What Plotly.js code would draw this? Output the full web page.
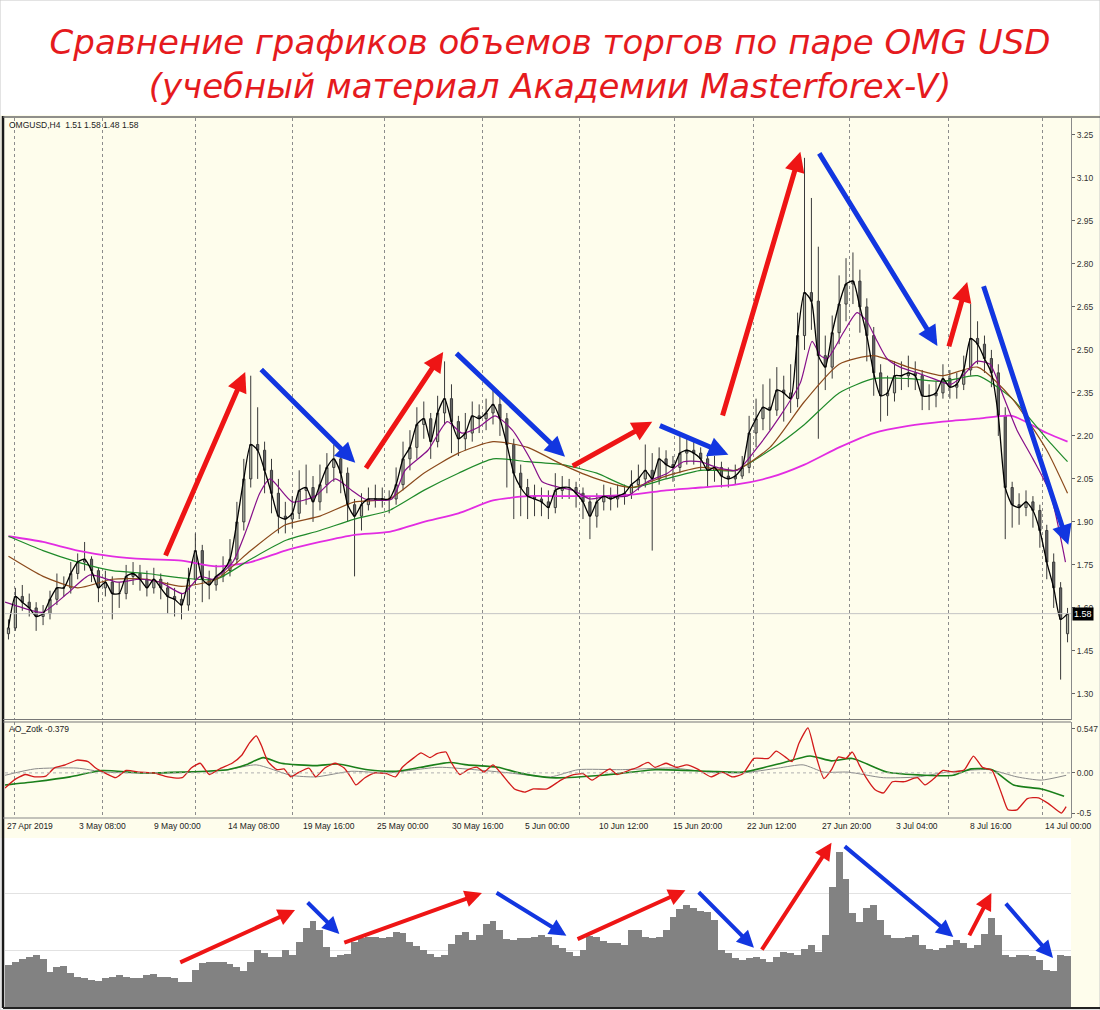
<!DOCTYPE html>
<html>
<head>
<meta charset="utf-8">
<script src="https://cdn.plot.ly/plotly-3.0.1.min.js"></script>
<style>html,body{margin:0;padding:0;background:#fff;}#chart{width:1100px;height:1010px;}</style>
</head>
<body>
<div id="chart"></div>
<script>
// ---------- DATA (x = 12-hour candle index) ----------
const titleLines = ['Сравнение графиков объемов торгов по паре OMG USD', '(учебный материал Академии Masterforex-V)'];
const symbolInfo = 'OMGUSD,H4  1.51 1.58 1.48 1.58';
const oscInfo = 'AO_Zotk -0.379';

const openP = [1.51,1.53,1.64,1.62,1.60,1.57,1.58,1.63,1.67,1.67,
 1.72,1.76,1.77,1.73,1.67,1.69,1.65,1.65,1.71,1.72,
 1.70,1.67,1.70,1.67,1.64,1.63,1.61,1.70,1.80,1.70,
 1.68,1.71,1.73,1.77,1.90,2.05,2.17,2.15,2.08,2.00,
 1.92,1.91,1.93,2.01,2.02,1.97,2.03,2.09,2.12,2.07,
 1.96,1.92,1.96,1.98,1.98,1.98,1.98,2.03,2.12,2.16,
 2.24,2.26,2.18,2.28,2.33,2.25,2.19,2.21,2.27,2.26,
 2.28,2.31,2.26,2.17,2.07,2.02,1.99,1.98,1.97,1.95,
 2.01,2.02,2.02,2.00,1.97,1.92,1.97,1.99,1.98,1.99,
 2.00,2.03,2.05,2.08,2.05,2.12,2.10,2.09,2.14,2.15,
 2.14,2.12,2.08,2.09,2.06,2.05,2.06,2.09,2.21,2.26,
 2.30,2.29,2.36,2.35,2.33,2.55,2.70,2.67,2.48,2.44,
 2.56,2.66,2.73,2.74,2.65,2.55,2.42,2.34,2.35,2.41,
 2.41,2.42,2.41,2.34,2.34,2.35,2.40,2.37,2.38,2.43,
 2.54,2.52,2.47,2.42,2.27,2.02,1.96,1.95,1.97,1.94,
 1.87,1.76,1.67,1.51];
const highP = [1.56,1.67,1.68,1.65,1.62,1.61,1.66,1.72,1.71,1.76,
 1.79,1.83,1.78,1.74,1.73,1.71,1.69,1.75,1.76,1.75,
 1.73,1.74,1.72,1.69,1.67,1.65,1.74,1.86,1.82,1.73,
 1.75,1.78,1.84,1.97,2.12,2.41,2.30,2.18,2.12,2.05,
 1.97,1.99,2.08,2.10,2.06,2.10,2.14,2.17,2.15,2.09,
 1.98,2.00,2.02,2.03,2.02,2.01,2.09,2.18,2.22,2.30,
 2.32,2.28,2.34,2.46,2.38,2.27,2.28,2.32,2.31,2.33,
 2.36,2.34,2.28,2.19,2.10,2.05,2.03,2.02,2.01,2.07,
 2.06,2.05,2.04,2.02,1.99,2.00,2.03,2.02,2.03,2.03,
 2.08,2.10,2.17,2.14,2.16,2.15,2.13,2.20,2.19,2.18,
 2.16,2.14,2.13,2.11,2.09,2.10,2.13,2.27,2.33,2.38,
 2.40,2.44,2.41,2.45,2.63,3.17,3.03,2.86,2.55,2.62,
 2.76,2.82,2.84,2.78,2.68,2.58,2.45,2.41,2.46,2.46,
 2.48,2.46,2.43,2.38,2.39,2.45,2.43,2.42,2.48,2.66,
 2.60,2.55,2.50,2.45,2.30,2.04,2.00,2.01,1.99,1.96,
 1.89,1.79,1.69,1.60];
const lowP = [1.49,1.52,1.59,1.57,1.52,1.54,1.56,1.61,1.64,1.65,
 1.70,1.73,1.69,1.62,1.64,1.56,1.60,1.63,1.68,1.66,
 1.64,1.65,1.63,1.58,1.57,1.56,1.59,1.68,1.62,1.63,
 1.66,1.69,1.71,1.75,1.87,2.02,2.05,2.00,1.93,1.86,
 1.86,1.88,1.91,1.96,1.90,1.94,2.00,2.04,2.00,1.90,
 1.71,1.87,1.94,1.95,1.95,1.93,1.96,2.01,2.08,2.12,
 2.19,2.12,2.16,2.24,2.14,2.13,2.15,2.18,2.21,2.22,
 2.24,2.20,2.02,1.91,1.92,1.91,1.92,1.92,1.91,1.93,
 1.98,1.98,1.95,1.91,1.84,1.88,1.94,1.94,1.95,1.96,
 1.98,2.01,2.02,1.80,2.03,2.05,2.04,2.07,2.10,2.10,
 2.08,2.02,2.04,2.02,2.02,2.03,2.05,2.07,2.16,2.22,
 2.22,2.27,2.25,2.28,2.30,2.50,2.57,2.19,2.36,2.40,
 2.52,2.60,2.66,2.56,2.46,2.34,2.25,2.27,2.32,2.36,
 2.37,2.36,2.29,2.29,2.30,2.33,2.33,2.33,2.36,2.41,
 2.45,2.42,2.37,2.20,1.84,1.88,1.89,1.92,1.88,1.81,
 1.70,1.60,1.35,1.48];
const closeP = [1.53,1.64,1.62,1.60,1.57,1.58,1.63,1.67,1.67,1.72,
 1.76,1.77,1.73,1.67,1.69,1.65,1.65,1.71,1.72,1.70,
 1.67,1.70,1.67,1.64,1.63,1.61,1.70,1.80,1.70,1.68,
 1.71,1.73,1.77,1.90,2.05,2.17,2.15,2.08,2.00,1.92,
 1.91,1.93,2.01,2.02,1.97,2.03,2.09,2.12,2.07,1.96,
 1.92,1.96,1.98,1.98,1.98,1.98,2.03,2.12,2.16,2.24,
 2.26,2.18,2.28,2.33,2.25,2.19,2.21,2.27,2.26,2.28,
 2.31,2.26,2.17,2.07,2.02,1.99,1.98,1.97,1.95,2.01,
 2.02,2.02,2.00,1.97,1.92,1.97,1.99,1.98,1.99,2.00,
 2.03,2.05,2.08,2.05,2.12,2.10,2.09,2.14,2.15,2.14,
 2.12,2.08,2.09,2.06,2.05,2.06,2.09,2.21,2.26,2.30,
 2.29,2.36,2.35,2.33,2.55,2.70,2.67,2.48,2.44,2.56,
 2.66,2.73,2.74,2.65,2.55,2.42,2.34,2.35,2.41,2.41,
 2.42,2.41,2.34,2.34,2.35,2.40,2.37,2.38,2.43,2.54,
 2.52,2.47,2.42,2.27,2.02,1.96,1.95,1.97,1.94,1.87,
 1.76,1.67,1.56,1.58];

// moving averages read at sampled candle indices
const maIdx = [0,5,10,15,20,25,30,35,40,45,50,55,60,65,70,75,80,85,90,95,100,105,110,115,120,125,130,135,140,145,150,153];
const maMagenta = [1.85,1.83,1.80,1.78,1.77,1.765,1.745,1.76,1.80,1.83,1.855,1.865,1.90,1.93,1.975,1.99,1.99,1.99,1.995,2.01,2.02,2.03,2.055,2.10,2.16,2.21,2.235,2.25,2.26,2.27,2.21,2.18];
const maGreen = [1.85,1.80,1.76,1.73,1.72,1.705,1.70,1.77,1.835,1.87,1.91,1.94,2.01,2.07,2.12,2.11,2.10,2.07,2.02,2.05,2.08,2.08,2.15,2.24,2.35,2.40,2.40,2.39,2.41,2.33,2.19,2.11];
const maBrown = [1.78,1.71,1.67,1.70,1.70,1.675,1.70,1.80,1.89,1.92,1.97,1.98,2.07,2.14,2.18,2.16,2.10,2.05,2.02,2.06,2.09,2.08,2.16,2.32,2.45,2.48,2.44,2.41,2.44,2.33,2.15,2.00];
const purpleIdx = [-0.5,3.5,5.0,8.5,11.8,15.7,19.0,21.9,25.2,27.7,29.5,32.4,34.5,36.3,37.8,41.0,44.3,47.2,49.6,51.5,55.4,57.3,60.6,63.4,65.5,67.9,70.3,72.8,75.6,77.1,79.7,81.6,84.0,86.5,89.4,92.3,95.2,97.5,99.9,102.4,105.3,108.2,111.5,114.4,116.1,117.3,118.3,120.6,122.6,124.0,125.5,126.9,128.8,131.3,133.6,136.1,137.9,139.9,141.8,143.7,145.7,148.0,150.5,152.7];
const maPurple = [1.62,1.59,1.585,1.65,1.715,1.69,1.70,1.69,1.65,1.71,1.70,1.76,1.88,2.00,2.05,1.97,1.99,2.05,2.01,1.98,1.98,2.08,2.15,2.25,2.21,2.23,2.27,2.22,2.11,2.04,2.02,2.01,1.98,1.99,1.99,2.04,2.07,2.11,2.11,2.09,2.08,2.16,2.27,2.385,2.53,2.48,2.47,2.56,2.63,2.60,2.53,2.47,2.44,2.42,2.40,2.38,2.41,2.46,2.45,2.34,2.22,2.12,2.00,1.76];

// AO_Zotk oscillator
const aoX = [-0.5,0.8,2.4,3.8,5.4,6.6,8.2,9.9,11.5,12.6,
 13.9,15.5,17.0,19.0,21.0,23.0,25.1,26.4,27.7,29.0,
 30.7,32.3,33.7,34.8,35.8,36.5,37.5,38.8,39.8,40.8,
 41.8,43.4,44.4,45.7,47.2,48.5,49.5,50.2,51.5,53.0,
 54.6,55.9,56.9,58.6,59.6,60.9,61.9,63.2,63.9,65.2,
 66.4,67.7,68.7,70.0,71.3,73.1,74.6,75.8,77.8,79.8,
 81.3,83.0,84.3,85.9,86.9,87.9,89.9,90.9,92.4,93.4,
 95.0,96.5,98.0,99.5,101.5,103.1,104.6,106.1,107.7,109.8,
 110.9,112.2,113.2,114.2,115.5,116.5,117.8,118.9,119.9,121.0,
 121.9,122.9,123.9,125.2,126.4,127.7,129.4,131.3,132.4,133.7,
 135.0,136.6,138.1,139.4,140.7,142.1,143.4,144.4,145.7,147.2,
 148.8,150.2,152.1,152.8];
const aoRed = [-0.19,-0.09,-0.02,-0.05,-0.04,0.06,0.10,0.16,0.14,0.06,
 0.00,-0.06,0.03,0.01,0.00,-0.05,-0.06,0.06,0.12,-0.02,
 0.06,0.12,0.22,0.37,0.46,0.35,0.14,0.04,0.05,-0.05,
 0.00,0.06,-0.05,0.06,0.12,0.06,-0.06,-0.15,-0.06,0.00,
 -0.01,-0.05,0.07,0.19,0.25,0.19,0.24,0.26,0.14,-0.02,
 0.04,0.07,0.01,0.10,-0.02,-0.20,-0.24,-0.20,-0.20,-0.09,
 -0.03,-0.01,-0.09,0.00,0.05,-0.02,0.04,0.07,0.13,0.07,
 0.12,0.07,0.10,0.05,-0.05,0.01,-0.05,-0.01,0.18,0.18,
 0.27,0.20,0.14,0.37,0.56,0.26,-0.07,0.04,0.20,0.18,
 0.26,0.10,-0.06,-0.21,-0.25,-0.11,-0.11,-0.06,-0.15,-0.07,
 0.03,0.01,0.04,0.21,0.07,0.03,-0.24,-0.46,-0.46,-0.32,
 -0.31,-0.38,-0.50,-0.42];
const sigX = [-0.5,3.8,8.9,13.5,19.0,25.1,31.7,34.3,36.8,39.4,44.4,47.5,51.9,56.0,59.6,63.7,66.3,70.7,73.8,78.3,85.9,93.4,101.1,106.1,111.2,115.8,118.9,121.9,126.9,132.4,136.5,139.1,142.1,145.2,149.2,152.5];
const sigGreen = [-0.15,-0.11,-0.05,0.03,0.00,0.01,0.04,0.10,0.19,0.12,0.09,0.11,0.04,0.02,0.07,0.13,0.10,0.07,0.00,-0.06,-0.03,0.04,0.02,0.01,0.11,0.21,0.15,0.18,0.01,-0.03,-0.03,0.05,0.04,-0.15,-0.20,-0.29];
const avgX = [-0.5,3.8,9.9,13.9,24.1,31.7,35.8,40.8,44.4,49.5,54.6,62.2,67.3,72.3,78.3,82.3,88.4,96.0,101.1,106.1,111.2,114.8,117.8,121.3,126.4,131.4,135.5,141.7,145.7,149.2,152.8];
const avgGray = [-0.03,0.05,0.06,0.01,0.00,0.04,0.10,-0.03,-0.05,0.02,0.00,0.07,0.04,0.00,-0.05,0.04,0.04,0.06,0.01,0.00,0.06,0.10,0.01,0.01,-0.06,-0.05,0.01,0.04,-0.05,-0.09,-0.03];
const oscTicks = [0.547, 0, -0.5];
const oscTickText = ['0.547', '0.00', '-0.5'];

// trading volume (relative units)
const volume = [0.74,0.79,0.84,0.88,0.91,0.84,0.61,0.70,0.72,0.60,
 0.53,0.51,0.47,0.46,0.51,0.53,0.56,0.53,0.51,0.51,
 0.56,0.58,0.53,0.53,0.51,0.44,0.44,0.65,0.77,0.79,
 0.79,0.79,0.75,0.70,0.63,0.79,1.00,0.95,0.88,0.88,
 1.00,0.91,1.14,1.39,1.51,1.35,1.05,0.88,0.91,0.93,
 1.14,1.21,1.23,1.23,1.21,1.23,1.32,1.30,1.14,1.07,
 1.00,0.93,0.88,0.91,1.11,1.26,1.32,1.18,1.26,1.46,
 1.51,1.35,1.19,1.18,1.21,1.21,1.23,1.26,1.23,1.09,
 1.04,0.96,0.89,1.00,1.25,1.23,1.16,1.12,1.12,1.09,
 1.35,1.35,1.23,1.21,1.23,1.35,1.58,1.72,1.79,1.74,
 1.68,1.67,1.53,1.00,0.95,0.86,0.82,0.86,0.88,0.84,
 0.79,0.88,0.96,0.95,0.91,1.02,1.09,0.96,1.26,2.10,
 2.72,2.25,1.65,1.49,1.74,1.79,1.53,1.26,1.21,1.21,
 1.23,1.26,1.09,1.02,1.00,1.04,1.09,1.18,1.12,1.04,
 1.09,1.28,1.56,1.26,0.91,0.88,0.91,0.91,0.89,0.82,
 0.65,0.63,0.91,0.89];

// axis ticks / grid / date labels
const priceTicks = [1.30,1.45,1.60,1.75,1.90,2.05,2.20,2.35,2.50,2.65,2.80,2.95,3.10,3.25];
const gridIdx = [0.84,13.55,26.95,40.97,54.34,68.43,82.44,96.17,107.59,121.46,135.77,149.35];
const dateIdx = [-0.5,9.9,20.7,31.4,42.3,53.0,63.8,74.3,85.0,95.7,106.4,117.3,128.0,138.6,149.5];
const dateLabels = ['27 Apr 2019','3 May 08:00','9 May 00:00','14 May 08:00','19 May 16:00','25 May 00:00','30 May 16:00','5 Jun 00:00','10 Jun 12:00','15 Jun 20:00','22 Jun 12:00','27 Jun 20:00','3 Jul 04:00','8 Jul 16:00','14 Jul 00:00'];

// trend arrows: [fromIdx, fromVal, toIdx, toVal, kind]
const priceArrows = [
 [22.6,1.778,34.2,2.423,'up'],[36.3,2.437,50.1,2.106,'down'],[51.5,2.082,62.8,2.493,'up'],
 [64.5,2.493,80.4,2.127,'down'],[81.3,2.092,93.0,2.249,'up'],[93.9,2.238,104.0,2.134,'down'],
 [103.1,2.266,114.4,3.191,'up'],[117.0,3.191,134.2,2.514,'down'],[135.8,2.507,138.5,2.737,'up'],
 [140.8,2.727,153.1,1.820,'down']];
const volumeArrows = [
 [24.6,0.77,41.4,1.70,'up'],[43.0,1.86,47.8,1.28,'down'],[48.3,1.12,68.4,2.00,'up'],
 [70.3,2.02,80.6,1.25,'down'],[82.0,1.18,97.8,2.05,'up'],[99.5,2.04,107.7,1.04,'down'],
 [108.7,0.98,118.9,2.88,'up'],[120.6,2.84,136.5,1.23,'down'],[138.7,1.23,142.0,2.00,'up'],
 [143.9,1.84,150.9,0.86,'down']];

// ---------- BUILD ----------
const idx = closeP.map((_, i) => i);
const lastClose = closeP[closeP.length - 1];
const W = 1100, H = 1010;
const px = v => v / W, py = v => 1 - v / H;
const XD = [px(5), px(1071)];
const XR = [-0.5, 153.5];
const IVORY = '#fefdec';
const txtFont = {family: 'Liberation Sans, Arial, sans-serif', size: 8.5, color: '#222'};

const traces = [
 {type:'candlestick', x: idx, open: openP, high: highP, low: lowP, close: closeP, xaxis:'x', yaxis:'y',
  increasing:{line:{color:'#3a3a3a', width:1}, fillcolor:'#b4b8a8'},
  decreasing:{line:{color:'#3a3a3a', width:1}, fillcolor:'#666'},
  whiskerwidth: 0, hoverinfo:'skip', showlegend:false},
 {type:'scatter', mode:'lines', x: maIdx, y: maMagenta, xaxis:'x', yaxis:'y', line:{color:'#e22ce2', width:1.8, shape:'spline', smoothing:0.6}, hoverinfo:'skip'},
 {type:'scatter', mode:'lines', x: maIdx, y: maGreen, xaxis:'x', yaxis:'y', line:{color:'#1f8a2a', width:1.2, shape:'spline', smoothing:0.6}, hoverinfo:'skip'},
 {type:'scatter', mode:'lines', x: maIdx, y: maBrown, xaxis:'x', yaxis:'y', line:{color:'#8b4a1c', width:1.2, shape:'spline', smoothing:0.6}, hoverinfo:'skip'},
 {type:'scatter', mode:'lines', x: purpleIdx, y: maPurple, xaxis:'x', yaxis:'y', line:{color:'#86108a', width:1.2, shape:'spline', smoothing:0.6}, hoverinfo:'skip'},
 {type:'scatter', mode:'lines', x: idx, y: closeP, xaxis:'x', yaxis:'y', line:{color:'#000', width:1.3, shape:'spline', smoothing:0.6}, hoverinfo:'skip'},
 {type:'scatter', mode:'lines', x: avgX, y: avgGray, xaxis:'x2', yaxis:'y2', line:{color:'#8a8a8a', width:1, shape:'spline', smoothing:0.6}, hoverinfo:'skip'},
 {type:'scatter', mode:'lines', x: sigX, y: sigGreen, xaxis:'x2', yaxis:'y2', line:{color:'#1a7f1a', width:1.6, shape:'spline', smoothing:0.6}, hoverinfo:'skip'},
 {type:'scatter', mode:'lines', x: aoX, y: aoRed, xaxis:'x2', yaxis:'y2', line:{color:'#d21a1a', width:1.3, shape:'spline', smoothing:0.5}, hoverinfo:'skip'},
 {type:'bar', x: idx, y: volume, xaxis:'x3', yaxis:'y3', marker:{color:'#828282', line:{width:0}}, hoverinfo:'skip'}
];

const annotations = [];
annotations.push({xref:'paper', yref:'paper', x:px(7), y:py(125), xanchor:'left', yanchor:'middle', text: symbolInfo, showarrow:false, font: txtFont});
annotations.push({xref:'paper', yref:'paper', x:px(7), y:py(729), xanchor:'left', yanchor:'middle', text: oscInfo, showarrow:false, font: txtFont});
annotations.push({xref:'paper', yref:'y', x:px(1072), y:lastClose, xanchor:'left', yanchor:'middle', text: lastClose.toFixed(2), showarrow:false, bgcolor:'#000', borderpad:1, font:{family:'Liberation Sans, Arial', size:9, color:'#fff'}});
dateLabels.forEach((t, i) => annotations.push({xref:'x2', yref:'paper', x: dateIdx[i], y: py(826), xanchor:'left', yanchor:'middle', text: t, showarrow:false, font: txtFont}));
const arrowColor = {up:'#ee1515', down:'#1236e0'};
priceArrows.forEach(a => annotations.push({xref:'x', yref:'y', axref:'x', ayref:'y', x:a[2], y:a[3], ax:a[0], ay:a[1], text:'', showarrow:true, arrowhead:2, arrowsize:0.8, arrowwidth:5, arrowcolor: arrowColor[a[4]], standoff:0}));
volumeArrows.forEach(a => annotations.push({xref:'x3', yref:'y3', axref:'x3', ayref:'y3', x:a[2], y:a[3], ax:a[0], ay:a[1], text:'', showarrow:true, arrowhead:2, arrowsize:0.85, arrowwidth:4, arrowcolor: arrowColor[a[4]], standoff:0}));

const shapes = [
 {type:'rect', xref:'paper', yref:'paper', x0:0, x1:1, y0:py(838), y1:py(115), fillcolor: IVORY, line:{width:0}, layer:'below'},
 {type:'rect', xref:'paper', yref:'paper', x0:px(1071), x1:1, y0:py(1008), y1:py(838), fillcolor: IVORY, line:{width:0}, layer:'below'},
 {type:'rect', xref:'paper', yref:'paper', x0:0, x1:1, y0:0, y1:1, fillcolor:'rgba(0,0,0,0)', line:{color:'#c8c8c8', width:1}},
 {type:'line', xref:'paper', yref:'paper', x0:px(3), x1:px(3), y0:py(1008), y1:py(116), line:{color:'#1a1a1a', width:2.5}},
 {type:'line', xref:'paper', yref:'paper', x0:px(3), x1:1, y0:py(117), y1:py(117), line:{color:'#6a6a6a', width:1.5}},
 {type:'line', xref:'paper', yref:'paper', x0:px(3), x1:px(1071), y0:py(719.5), y1:py(719.5), line:{color:'#777', width:1.2}},
 {type:'line', xref:'paper', yref:'paper', x0:px(3), x1:px(1071), y0:py(722), y1:py(722), line:{color:'#777', width:1.2}},
 {type:'line', xref:'paper', yref:'paper', x0:px(3), x1:px(1071), y0:py(818), y1:py(818), line:{color:'#888', width:1}},
 {type:'line', xref:'paper', yref:'paper', x0:px(3), x1:1, y0:py(1008), y1:py(1008), line:{color:'#222', width:2}},
 {type:'line', xref:'paper', yref:'y2', x0:XD[0], x1:XD[1], y0:0, y1:0, line:{color:'#b0b0b0', width:1, dash:'dot'}},
 {type:'line', xref:'paper', yref:'y', x0:XD[0], x1:XD[1], y0:lastClose, y1:lastClose, line:{color:'#c4c4c4', width:1}}
];

const gridAxis = (yanchor) => ({domain: XD, range: XR, anchor: yanchor, tickmode:'array', tickvals: gridIdx,
  showticklabels:false, ticks:'', showgrid:true, gridcolor:'#8c8c8c', griddash:'dot', gridwidth:1, zeroline:false, showline:false, fixedrange:true});

const layout = {
 width: W, height: H, margin:{l:0, r:0, t:0, b:0},
 paper_bgcolor:'#ffffff', plot_bgcolor:'rgba(0,0,0,0)',
 showlegend:false, hovermode:false, boxgap:0.55, bargap:0,
 font:{family:'Liberation Sans, Arial, sans-serif', size:9, color:'#222'},
 title:{text: titleLines.join('<br>'), x:0.5, xanchor:'center', y: py(54), yanchor:'middle', yref:'container',
  font:{family:'DejaVu Sans, sans-serif', size:34, color:'#e51a1e', style:'italic'}},
 xaxis: Object.assign(gridAxis('y'), {rangeslider:{visible:false}}),
 yaxis:{domain:[py(720), py(118)], range:[1.209, 3.309], side:'right', anchor:'x', tickmode:'array', tickvals: priceTicks,
  tickformat:'.2f', ticks:'outside', ticklen:3, tickcolor:'#666', showgrid:false, zeroline:false,
  showline:true, linecolor:'#8a8a8a', linewidth:1, tickfont:{family:'Liberation Sans, Arial', size:8.5, color:'#333'}, fixedrange:true},
 xaxis2: gridAxis('y2'),
 yaxis2:{domain:[py(818), py(722)], range:[-0.562, 0.634], side:'right', anchor:'x2', tickmode:'array', tickvals: oscTicks, ticktext: oscTickText,
  ticks:'outside', ticklen:3, tickcolor:'#666', showgrid:false, zeroline:false, showline:true, linecolor:'#8a8a8a', linewidth:1,
  tickfont:{family:'Liberation Sans, Arial', size:8.5, color:'#333'}, fixedrange:true},
 xaxis3:{domain: XD, range: XR, anchor:'y3', showticklabels:false, ticks:'', showgrid:false, zeroline:false, showline:false, fixedrange:true},
 yaxis3:{domain:[py(1007), py(840)], range:[0, 2.93], anchor:'x3', tickmode:'array', tickvals:[1, 2], showticklabels:false, ticks:'',
  showgrid:true, gridcolor:'#e2e2e2', gridwidth:1, zeroline:false, showline:false, fixedrange:true},
 shapes: shapes,
 annotations: annotations
};

Plotly.newPlot('chart', traces, layout, {staticPlot:true, displayModeBar:false});
</script>
</body>
</html>
